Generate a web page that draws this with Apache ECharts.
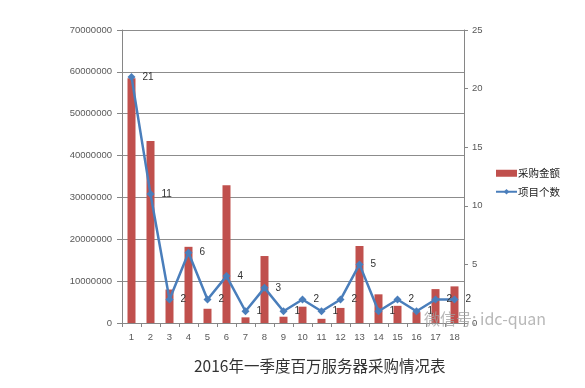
<!DOCTYPE html>
<html><head><meta charset="utf-8">
<script src="https://cdn.jsdelivr.net/npm/echarts@6/dist/echarts.min.js"></script>
<style>html,body{margin:0;padding:0;background:#fff}#c{width:585px;height:388px}</style>
</head><body><div id="c"></div>
<script>
var categories = ['1','2','3','4','5','6','7','8','9','10','11','12','13','14','15','16','17','18'];
var amounts = [58500000,43500000,8000000,18200000,3400000,32900000,1350000,16000000,1500000,3900000,1000000,3600000,18400000,6850000,4100000,2600000,8100000,8750000];
var counts = [21,11,2,6,2,4,1,3,1,2,1,2,5,1,2,1,2,2];
var seriesNames = ['采购金额','项目个数'];
var titleText = '2016年一季度百万服务器采购情况表';
var watermark = '微信号: idc-quan';

var chart = echarts.init(document.getElementById('c'), null, {renderer:'canvas'});
var axisFont = {fontFamily:'Liberation Sans', fontSize:9.5, color:'#595959'};
chart.setOption({
  animation:false,
  backgroundColor:'#fff',
  title:{text:titleText, left:189, top:353, textStyle:{fontFamily:'Noto Sans CJK SC', fontSize:15.5, fontWeight:'normal', color:'#333'}},
  grid:{left:122, right:121, top:30, bottom:65},
  legend:{orient:'vertical', left:490, top:163, itemWidth:21, itemHeight:7, itemGap:8,
    textStyle:{fontFamily:'Noto Sans CJK SC', fontSize:10.5, color:'#222', padding:[0,0,0,-4]},
    data:[{name:seriesNames[0], icon:'rect'},{name:seriesNames[1]}]},
  xAxis:{type:'category', data:categories, boundaryGap:true,
    axisLine:{lineStyle:{color:'#868686'}},
    axisTick:{show:true, length:4, lineStyle:{color:'#868686'}},
    axisLabel:Object.assign({margin:9}, axisFont)},
  yAxis:[
    {type:'value', min:0, max:70000000, interval:10000000, position:'left',
     axisLine:{show:true, lineStyle:{color:'#868686'}},
     axisTick:{show:true, length:5, lineStyle:{color:'#868686'}},
     splitLine:{lineStyle:{color:'#8c8c8c', width:1}},
     axisLabel:Object.assign({margin:10, formatter:function(v){return String(v);}}, axisFont)},
    {type:'value', min:0, max:25, interval:5, position:'right',
     axisLine:{show:true, lineStyle:{color:'#868686'}},
     axisTick:{show:true, length:4, lineStyle:{color:'#868686'}},
     splitLine:{show:false},
     axisLabel:Object.assign({margin:8}, axisFont)}
  ],
  series:[
    {name:seriesNames[0], type:'bar', yAxisIndex:0, data:amounts, barWidth:8,
     itemStyle:{color:'#C0504D'}},
    {name:seriesNames[1], type:'line', yAxisIndex:1, data:counts,
     symbol:'diamond', symbolSize:8,
     lineStyle:{color:'#4A7EBB', width:2.5},
     itemStyle:{color:'#4A7EBB'},
     label:{show:true, position:'right', distance:7, fontFamily:'Liberation Sans', fontSize:10, color:'#333'}}
  ],
  graphic:[{type:'text', left:424, top:311, z:100,
    style:{text:watermark, fontFamily:'Noto Sans CJK SC', fontSize:16, fill:'rgba(160,160,160,0.75)'}}]
});
</script></body></html>
